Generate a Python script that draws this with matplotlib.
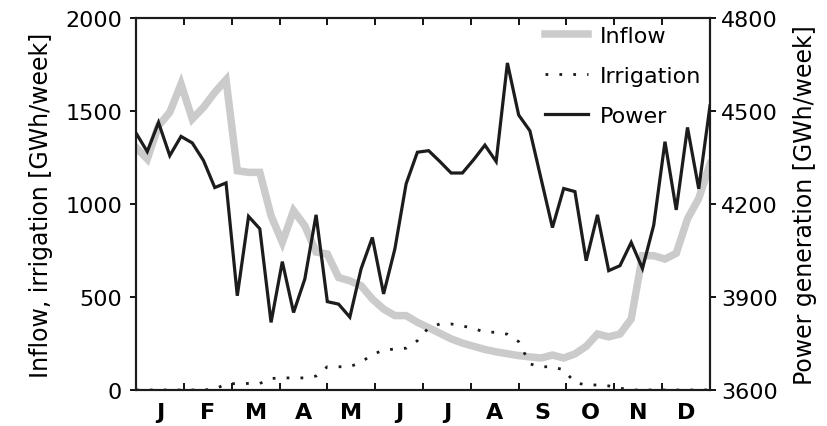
import numpy as np
import matplotlib.pyplot as plt
from matplotlib.lines import Line2D

# weekly values (52 weeks)
inflow = [1304, 1242, 1421, 1493, 1645, 1457, 1520, 1600, 1668, 1179,
          1170, 1170, 937, 794, 964, 883, 742, 731, 605, 587,
          561, 489, 435, 400, 400, 364, 335, 305, 275, 252,
          235, 218, 205, 195, 185, 178, 172, 188, 172, 194,
          235, 301, 286, 301, 382, 722, 722, 704, 735, 920,
          1030, 1215]

irrigation = [0, 0, 0, 0, 0, 0, 0, 5, 32, 35,
              35, 35, 62, 65, 65, 65, 75, 125, 125, 125,
              150, 190, 215, 220, 225, 265, 335, 355, 355, 345,
              330, 312, 310, 300, 260, 140, 125, 125, 108, 40,
              27, 27, 22, 10, 0, 0, 0, 0, 0, 0,
              0, 0]

power = [4429, 4369, 4463, 4356, 4418, 4397, 4340, 4253, 4268, 3904,
         4160, 4120, 3818, 4014, 3850, 3958, 4165, 3885, 3877, 3835,
         3991, 4092, 3910, 4055, 4265, 4367, 4372, 4337, 4300, 4300,
         4343, 4390, 4337, 4655, 4487, 4436, 4280, 4124, 4250, 4240,
         4017, 4165, 3985, 4001, 4076, 3992, 4132, 4401, 4181, 4447,
         4249, 4517]

months = ['J', 'F', 'M', 'A', 'M', 'J', 'J', 'A', 'S', 'O', 'N', 'D']
left_ticks = [0, 500, 1000, 1500, 2000]
right_ticks = [3600, 3900, 4200, 4500, 4800]

plt.rcParams['font.family'] = 'DejaVu Sans'

weeks = np.arange(len(power))
nw = len(power) - 1

fig = plt.figure(figsize=(8.28, 4.27), dpi=100)
ax = fig.add_axes([136/828, 1 - 391/427, 574/828, 372/427])
ax2 = ax.twinx()

gray = '#cbcbcb'
dark = '#1c1c1c'

ax.plot(weeks, inflow, color=gray, lw=5.4, solid_joinstyle='miter', zorder=2)
ax.plot(weeks, irrigation, color=dark, lw=2.0, linestyle=(0, (1, 4)), zorder=3)
ax2.plot(weeks, power, color=dark, lw=2.3, solid_joinstyle='miter', zorder=3)

ax.set_xlim(0, nw)
ax.set_ylim(0, 2000)
ax2.set_ylim(3600, 4800)

ax.set_yticks(left_ticks)
ax2.set_yticks(right_ticks)

bounds = [nw / 12 * k for k in range(13)]
centers = [nw / 12 * (k + 0.5) for k in range(12)]
ax.set_xticks(bounds[1:-1])
ax.set_xticklabels([])
ax.set_xticks(centers, minor=True)
ax.set_xticklabels(months, minor=True, fontsize=16, fontweight='bold')
ax.tick_params(axis='x', which='major', direction='in', length=5, width=1.3,
               top=True, bottom=True)
ax.tick_params(axis='x', which='minor', length=0, pad=9)
ax.tick_params(axis='y', direction='out', length=4, width=1.3, labelsize=16, pad=6)
ax2.tick_params(axis='y', direction='out', length=4, width=1.3, labelsize=16, pad=4)

for a in (ax, ax2):
    for s in a.spines.values():
        s.set_linewidth(1.5)
        s.set_color(dark)

ax.set_ylabel('Inflow, irrigation [GWh/week]', fontsize=17)
ax.yaxis.set_label_coords(-0.145, 0.5)
ax2.set_ylabel('Power generation [GWh/week]', fontsize=17)
ax2.yaxis.set_label_coords(1.145, 0.5)

handles = [Line2D([], [], color=gray, lw=5.4),
           Line2D([], [], color=dark, lw=2.0, linestyle=(0, (1, 4))),
           Line2D([], [], color=dark, lw=2.3)]
ax2.legend(handles, ['Inflow', 'Irrigation', 'Power'], loc='upper right',
           bbox_to_anchor=(1.008, 1.015), frameon=False, fontsize=16,
           handlelength=1.9, handletextpad=0.55, labelspacing=0.9,
           borderaxespad=0.2)

fig.savefig('out.png', dpi=100)
